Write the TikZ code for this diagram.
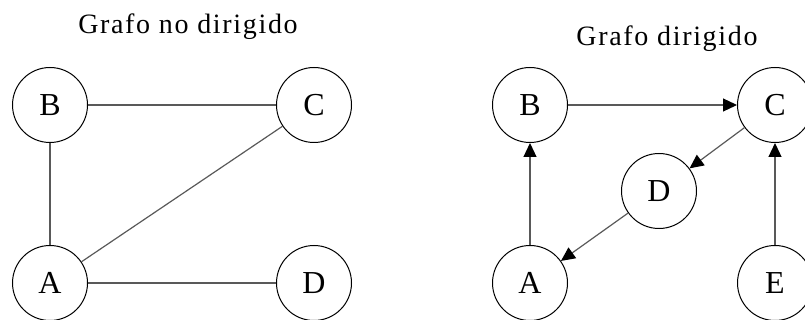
\documentclass[tikz,border=0pt]{standalone}
\usepackage{fontspec}
\setmainfont{Liberation Serif}
\newfontfamily\titlefont[LetterSpace=6]{Liberation Serif}
\usetikzlibrary{arrows.meta}
\begin{document}
\begin{tikzpicture}[x=1pt,y=-1pt,
  vertex/.style={circle,draw=black,line width=1pt,minimum size=75pt,inner sep=0pt,font=\fontsize{32}{32}\selectfont},
  edge/.style={draw=black!65,line width=1.2pt},
  arc/.style={edge,-{Triangle[length=14pt,width=13pt,color=black]}},
  heading/.style={font=\titlefont\fontsize{28}{28}\selectfont}]
\clip (0,0) rectangle (805,320);
\useasboundingbox (0,0) rectangle (805,320);

% undirected graph
\node[heading] (t1) at (188,27) {Grafo no dirigido};
\node[vertex] (uB) at (50,105) {B};
\node[vertex] (uC) at (314,105) {C};
\node[vertex] (uA) at (50,283) {A};
\node[vertex] (uD) at (314,283) {D};
\draw[edge] (uB) -- (uC);
\draw[edge] (uB) -- (uA);
\draw[edge] (uA) -- (uC);
\draw[edge] (uA) -- (uD);

% directed graph
\node[heading] (t2) at (667,39) {Grafo dirigido};
\node[vertex] (dB) at (530,105) {B};
\node[vertex] (dC) at (775,105) {C};
\node[vertex] (dD) at (659,191) {D};
\node[vertex] (dA) at (530,283) {A};
\node[vertex] (dE) at (775,283) {E};
\draw[arc] (dB) -- (dC);
\draw[arc] (dA) -- (dB);
\draw[arc] (dE) -- (dC);
\draw[arc] (dC) -- (dD);
\draw[arc] (dD) -- (dA);
\end{tikzpicture}
\end{document}
